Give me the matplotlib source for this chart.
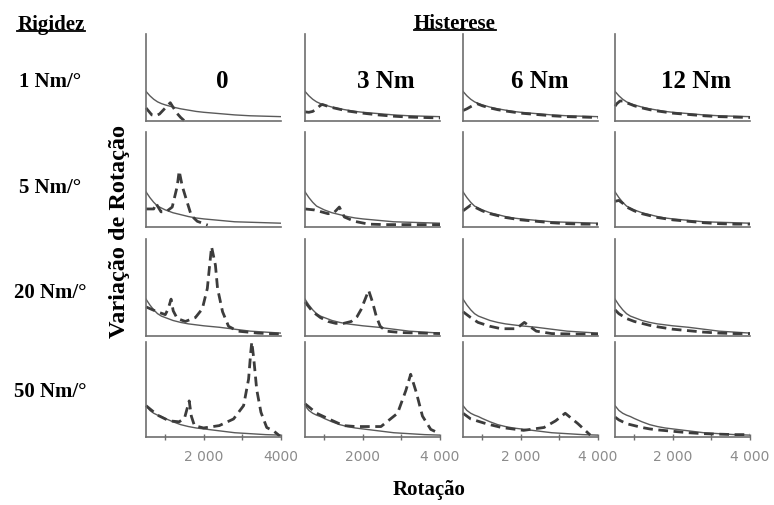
import matplotlib
matplotlib.use("Agg")
import matplotlib.pyplot as plt
from matplotlib.lines import Line2D

W, H = 774, 506

stiffness = ["1 Nm/°", "5 Nm/°", "20 Nm/°", "50 Nm/°"]
hysteresis = ["0", "3 Nm", "6 Nm", "12 Nm"]

rpm_ticks = [1000, 2000, 3000, 4000]
tick_labels = [
    ["", "2 000", "", "4000"],
    ["", "2000", "", "4 000"],
    ["", "2 000", "", "4 000"],
    ["", "2 000", "", "4 000"],
]

# reference curve without damper (solid), one per stiffness row
rpm_solid = [500, 600, 700, 800, 900, 1000, 1200, 1400, 1600, 1800, 2000, 2400, 2800, 3200, 3600, 4000]
solid_1 = [0.34, 0.29, 0.25, 0.22, 0.20, 0.185, 0.16, 0.14, 0.125, 0.11, 0.10, 0.085, 0.07, 0.06, 0.055, 0.05]
solid_5 = [0.37, 0.31, 0.26, 0.22, 0.20, 0.18, 0.15, 0.13, 0.11, 0.095, 0.085, 0.07, 0.055, 0.05, 0.045, 0.04]
solid_20 = [0.38, 0.32, 0.27, 0.23, 0.205, 0.19, 0.16, 0.14, 0.125, 0.115, 0.105, 0.09, 0.07, 0.05, 0.04, 0.03]
solid_50 = [0.33, 0.28, 0.25, 0.23, 0.215, 0.195, 0.16, 0.13, 0.11, 0.095, 0.085, 0.065, 0.045, 0.035, 0.025, 0.02]
solids = [solid_1, solid_5, solid_20, solid_50]

# measured response with damper (dashed), (rpm, level) per hysteresis column
dash_1 = [
    [(500, .15), (650, .07), (750, .06), (850, .08), (1000, .15), (1130, .21), (1200, .16),
     (1300, .09), (1400, .04), (1500, .0)],
    [(500, .105), (600, .10), (700, .11), (800, .14), (900, .18), (950, .19), (1050, .175),
     (1200, .155), (1400, .135), (1600, .115), (2000, .09), (2400, .07), (2800, .055),
     (3200, .045), (3600, .04), (4000, .035)],
    [(500, .12), (600, .14), (700, .165), (860, .20), (1000, .175), (1200, .15), (1400, .13),
     (1600, .115), (2000, .09), (2400, .075), (2800, .06), (3200, .05), (3600, .045), (4000, .04)],
    [(500, .17), (550, .20), (630, .23), (700, .23), (800, .21), (1000, .175), (1200, .15),
     (1400, .13), (1600, .115), (2000, .09), (2400, .075), (2800, .06), (3200, .05),
     (3600, .045), (4000, .04)],
]
dash_5 = [
    [(500, .19), (700, .19), (760, .25), (800, .22), (890, .16), (1020, .16), (1180, .21),
     (1310, .43), (1360, .59), (1440, .43), (1545, .29), (1675, .12), (1830, .06), (2100, .02)],
    [(500, .19), (735, .18), (920, .16), (1100, .14), (1250, .15), (1390, .21), (1520, .105),
     (1780, .06), (2150, .03), (2600, .025), (3000, .025), (3500, .025), (4000, .025)],
    [(500, .17), (600, .20), (700, .23), (800, .21), (1000, .17), (1200, .14), (1400, .12),
     (1600, .10), (2000, .075), (2400, .06), (2800, .045), (3200, .035), (3600, .03), (4000, .03)],
    [(500, .27), (600, .28), (700, .25), (800, .21), (1000, .17), (1200, .14), (1400, .12),
     (1600, .10), (2000, .075), (2400, .06), (2800, .045), (3200, .035), (3600, .03), (4000, .03)],
]
dash_20 = [
    [(500, .30), (790, .25), (1000, .22), (1075, .28), (1150, .38), (1205, .26), (1310, .18),
     (1520, .15), (1780, .19), (1960, .28), (2090, .49), (2150, .73), (2200, .92), (2300, .73),
     (2355, .49), (2485, .25), (2640, .10), (2880, .05), (3400, .03), (4000, .02)],
    [(500, .35), (700, .25), (900, .19), (1100, .15), (1300, .13), (1500, .13), (1700, .15),
     (1850, .20), (1950, .27), (2050, .37), (2150, .47), (2250, .35), (2350, .20), (2450, .10),
     (2600, .05), (3000, .035), (3500, .03), (4000, .025)],
    [(500, .25), (700, .19), (890, .14), (1200, .10), (1490, .075), (1880, .075), (2090, .14),
     (2400, .05), (2800, .025), (3400, .02), (4000, .02)],
    [(500, .27), (600, .23), (800, .18), (1000, .15), (1200, .13), (1400, .11), (1600, .095),
     (2000, .07), (2400, .055), (2800, .04), (3200, .03), (3600, .025), (4000, .025)],
]
dash_50 = [
    [(500, .33), (800, .23), (1100, .17), (1360, .16), (1500, .20), (1620, .38), (1675, .22),
     (1755, .12), (1990, .095), (2400, .12), (2770, .19), (3030, .33), (3160, .61), (3215, .89),
     (3243, 1.0), (3295, .82), (3370, .50), (3480, .26), (3630, .10), (3820, .06), (3970, .01)],
    [(500, .35), (800, .25), (1170, .18), (1500, .12), (1820, .11), (2470, .11), (2900, .25),
     (3115, .49), (3240, .66), (3385, .47), (3545, .22), (3760, .08), (3970, .04)],
    [(500, .25), (700, .19), (1100, .14), (1500, .10), (2070, .07), (2600, .10), (2900, .17),
     (3150, .25), (3480, .14), (3800, .02)],
    [(500, .21), (600, .18), (800, .14), (1000, .12), (1200, .10), (1400, .085), (1600, .075),
     (2000, .06), (2400, .045), (2800, .035), (3200, .03), (3600, .025), (4000, .025)],
]
dashes = [dash_1, dash_5, dash_20, dash_50]

# panel frame in pixels
col_left = [146, 305, 463, 615]
col_width = 135
row_top = [35, 133, 240, 343]
row_bottom = [122, 228, 337, 438]

serif = "Liberation Serif"
fig = plt.figure(figsize=(W / 100, H / 100), dpi=100)


def fx(x):
    return x / W


def fy(y):
    return 1 - y / H


for r in range(4):
    for c in range(4):
        ax = fig.add_axes([fx(col_left[c]), fy(row_bottom[r]),
                           col_width / W, (row_bottom[r] - row_top[r]) / H])
        ax.set_xlim(500, 4000)
        ax.set_ylim(0, 1)
        ax.set_facecolor("none")
        for side in ["top", "right"]:
            ax.spines[side].set_visible(False)
        for side in ["left", "bottom"]:
            ax.spines[side].set_color("#6e6e6e")
            ax.spines[side].set_linewidth(1.2)
        ax.set_yticks([])

        ax.plot(rpm_solid, solids[r], color="#5a5a5a", lw=1.0)
        xs, ys = zip(*dashes[r][c])
        ax.plot(xs, ys, color="#3c3c3c", lw=2.0, ls=(0, (3.5, 2.0)),
                clip_on=False)

        if r == 3:
            ax.set_xticks(rpm_ticks)
            ax.set_xticklabels(tick_labels[c])
            ax.tick_params(axis="x", direction="inout", length=5, width=1,
                           color="#6e6e6e", labelsize=10, labelcolor="#8c8c8c", pad=6)
        else:
            ax.set_xticks([])

# headings
bold = dict(family=serif, weight="bold", color="black")
for lab, y in zip(stiffness, [82, 188, 293, 392]):
    fig.text(fx(50), fy(y), lab, ha="center", va="center", fontsize=15, **bold)
for lab, x in zip(hysteresis, [222, 386, 540, 696]):
    fig.text(fx(x), fy(82), lab, ha="center", va="center", fontsize=18, **bold)

fig.text(fx(120), fy(232), "Variação de Rotação", rotation=90,
         ha="center", va="center", fontsize=17.5, **bold)
fig.text(fx(429), fy(490), "Rotação", ha="center", va="center", fontsize=15, **bold)


def underlined(x, y, s):
    t = fig.text(fx(x), fy(y), s, ha="center", va="baseline", fontsize=15, **bold)
    fig.canvas.draw()
    bb = t.get_window_extent().transformed(fig.transFigure.inverted())
    fig.add_artist(Line2D([bb.x0, bb.x1], [fy(y + 2)] * 2, color="black", lw=1.3))


underlined(51, 30, "Rigidez")
underlined(455, 29, "Histerese")

fig.savefig("out.png", dpi=100)
